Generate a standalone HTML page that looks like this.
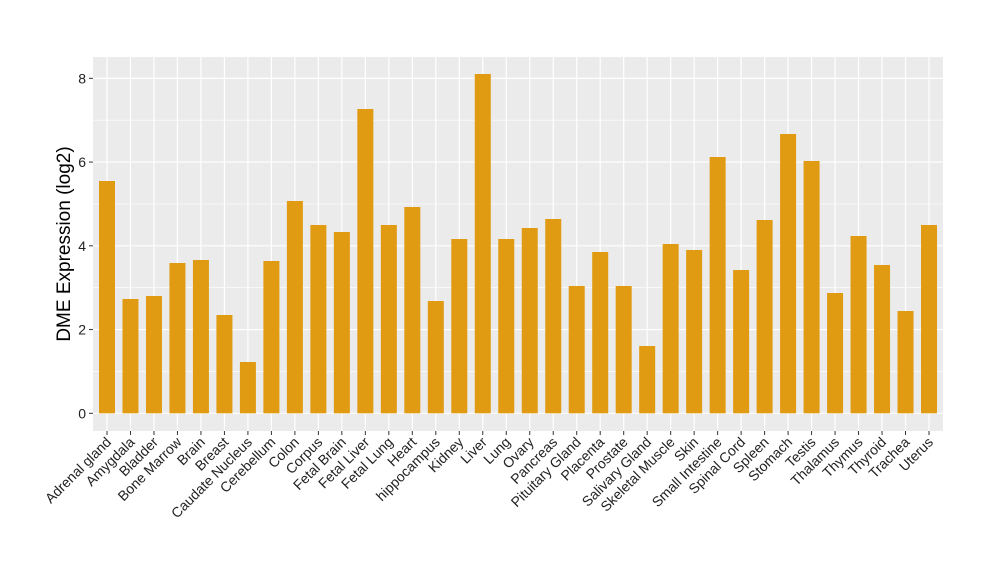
<!DOCTYPE html>
<html><head><meta charset="utf-8"><style>body{margin:0;background:#fff}svg{display:block}</style></head>
<body>
<svg id="s" width="1000" height="580" xmlns="http://www.w3.org/2000/svg" font-family="Liberation Sans, sans-serif">
<rect x="93" y="57" width="850" height="374" fill="#EBEBEB"/>
<g id="g"></g>
<text x="0" y="0" transform="translate(70,244) rotate(-90)" text-anchor="middle" font-size="19" fill="#000">DME Expression (log2)</text>
</svg>
<script>
var names=["Adrenal gland","Amygdala","Bladder","Bone Marrow","Brain","Breast","Caudate Nucleus","Cerebellum","Colon","Corpus","Fetal Brain","Fetal Liver","Fetal Lung","Heart","hippocampus","Kidney","Liver","Lung","Ovary","Pancreas","Pituitary Gland","Placenta","Prostate","Salivary Gland","Skeletal Muscle","Skin","Small Intestine","Spinal Cord","Spleen","Stomach","Testis","Thalamus","Thymus","Thyroid","Trachea","Uterus"];
var tops=[181,299,296,263,260,315,362,261,201,225,232,109,225,207,301,239,74,239,228,219,286,252,286,346,244,250,157,270,220,134,161,293,236,265,311,225];
var y0=413.3,u=41.87,h='';
for(var k=1;k<8;k+=2){var y=y0-k*u;h+='<line x1="93" x2="943" y1="'+y+'" y2="'+y+'" stroke="#fff" stroke-width="0.6"/>';}
for(var k=0;k<=8;k+=2){var y=y0-k*u;h+='<line x1="93" x2="943" y1="'+y+'" y2="'+y+'" stroke="#fff" stroke-width="1.2"/>';
h+='<line x1="89" x2="93" y1="'+y+'" y2="'+y+'" stroke="#333" stroke-width="1"/>';
h+='<text x="86" y="'+(y+5)+'" text-anchor="end" font-size="14" fill="#222">'+k+'</text>';}
for(var i=0;i<36;i++){var c=107+23.486*i;
h+='<line x1="'+c+'" x2="'+c+'" y1="57" y2="431" stroke="#fff" stroke-width="1.2"/>';}
for(var i=0;i<36;i++){var c=107+23.486*i;
h+='<rect x="'+(c-8)+'" y="'+tops[i]+'" width="16" height="'+(y0-tops[i])+'" fill="#E09B12"/>';
h+='<line x1="'+c+'" x2="'+c+'" y1="431" y2="435" stroke="#333"/>';
h+='<text transform="translate('+(c+5)+',443) rotate(-45)" text-anchor="end" font-size="14" fill="#222">'+names[i]+'</text>';}
document.getElementById('g').innerHTML=h;
</script>
</body></html>
